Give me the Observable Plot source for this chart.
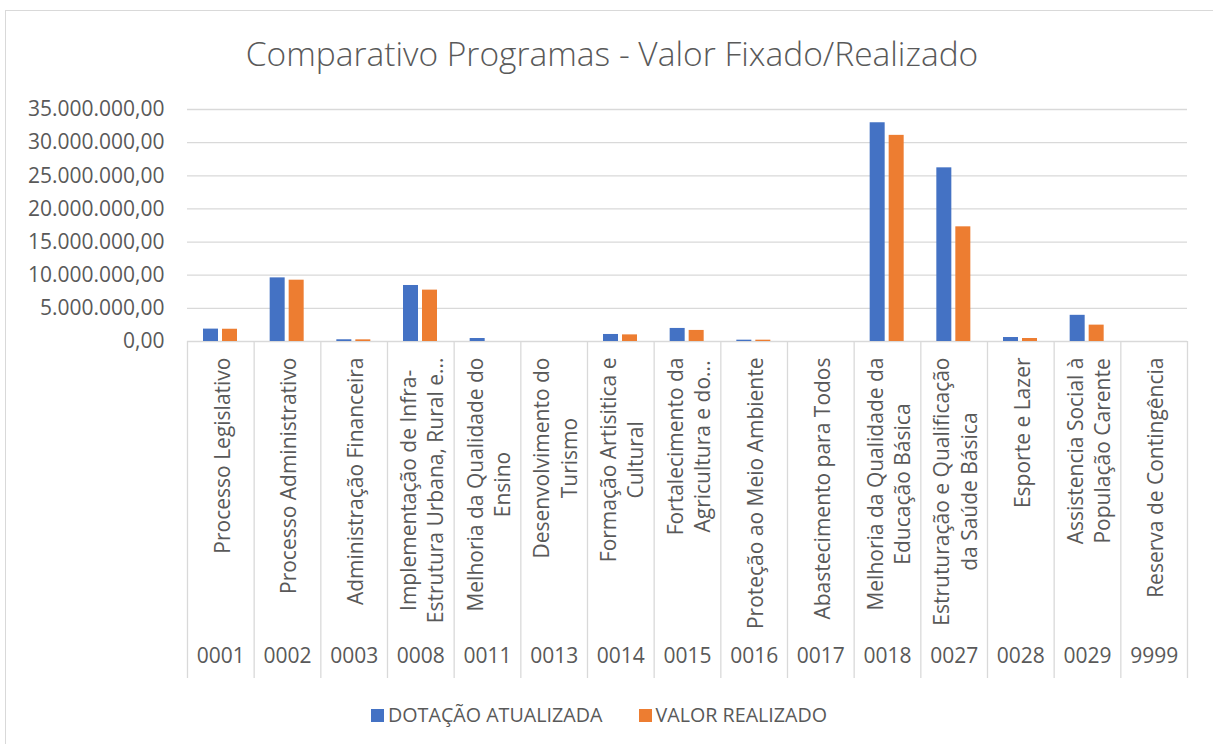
<!DOCTYPE html>
<html>
<head>
<meta charset="utf-8">
<script src="https://cdn.jsdelivr.net/npm/d3@7"></script>
<script src="https://cdn.jsdelivr.net/npm/@observablehq/plot@0.6"></script>
<style>
  html, body { margin: 0; padding: 0; background: #fff; width: 1213px; height: 744px; overflow: hidden; }
  body { position: relative; font-family: "Open Sans", sans-serif; color: #595959; }
  #frame { position: absolute; left: 5px; top: 10px; width: 1220px; height: 740px; border: 1px solid #d9d9d9; box-sizing: border-box; }
  #title { position: absolute; left: 0; width: 1224px; top: 37px; line-height: 33.5px; text-align: center; font-size: 33.5px; font-weight: 300; color: #595959; white-space: nowrap; }
  #chart { position: absolute; left: 0; top: 90px; }
  #legend { position: absolute; left: 371px; top: 700px; display: flex; align-items: center; font-size: 19.7px; line-height: 30px; color: #595959; white-space: nowrap; }
  .item { display: flex; align-items: center; }
  .sw { width: 13px; height: 13px; margin-right: 4px; }
</style>
</head>
<body>
<div id="frame"></div>
<div id="title">Comparativo Programas - Valor Fixado/Realizado</div>
<div id="chart"></div>
<div id="legend"></div>
<script>
const codes = ["0001","0002","0003","0008","0011","0013","0014","0015","0016","0017","0018","0027","0028","0029","9999"];
const names = [
  "Processo Legislativo",
  "Processo Administrativo",
  "Administração Financeira",
  "Implementação de Infra-\nEstrutura Urbana, Rural e...",
  "Melhoria da Qualidade do\nEnsino",
  "Desenvolvimento do\nTurismo",
  "Formação Artisitica e\nCultural",
  "Fortalecimento da\nAgricultura e do...",
  "Proteção ao Meio Ambiente",
  "Abastecimento para Todos",
  "Melhoria da Qualidade da\nEducação Básica",
  "Estruturação e Qualificação\nda Saúde Básica",
  "Esporte e Lazer",
  "Assistencia Social à\nPopulação Carente",
  "Reserva de Contingência"
];
const dotacao   = [1870000, 9600000, 260000, 8450000, 450000, 0, 1060000, 1970000, 200000, 0, 33000000, 26200000, 600000, 3950000, 0];
const realizado = [1850000, 9250000, 250000, 7750000, 0, 0, 1000000, 1670000, 200000, 0, 31100000, 17300000, 450000, 2470000, 0];
const seriesNames = ["DOTAÇÃO ATUALIZADA", "VALOR REALIZADO"];
const seriesColors = ["#4472C4", "#ED7D31"];
const yTicks = [0, 5000000, 10000000, 15000000, 20000000, 25000000, 30000000, 35000000];

const fmt = d3.formatLocale({decimal: ",", thousands: ".", grouping: [3], currency: ["R$", ""]}).format(",.2f");

const dataD = codes.map((c, i) => ({code: c, value: dotacao[i]}));
const dataR = codes.map((c, i) => ({code: c, value: realizado[i]}));

const W = 1213, H = 600, mL = 187, mR = 26, mT = 19, mB = 349;
const bw = (W - mL - mR) / codes.length;
const plotH = H - mT - mB;

// measure label widths for centered multi-line block placement
const ctx = document.createElement("canvas").getContext("2d");
ctx.font = "21px 'Open Sans'";
const labelMarks = names.map((n, i) => {
  const w = Math.max(...n.split("\n").map(s => ctx.measureText(s).width));
  return Plot.text([{code: codes[i], name: n}], {
    x: "code", text: "name", frameAnchor: "bottom", rotate: -90,
    textAnchor: "middle", lineAnchor: "middle", lineHeight: 1.3,
    dy: 16 + w / 2, fill: "#595959"
  });
});

const chart = Plot.plot({
  width: W, height: H,
  marginLeft: mL, marginRight: mR, marginTop: mT, marginBottom: mB,
  style: {fontFamily: "'Open Sans', sans-serif", fontSize: "21px", color: "#595959", background: "transparent"},
  x: {domain: codes, padding: 0, round: false, axis: null},
  y: {domain: [0, 35000000], ticks: yTicks, tickFormat: fmt, tickSize: 0, tickPadding: 23, label: null},
  marks: [
    Plot.ruleY(yTicks, {stroke: "#d9d9d9", strokeWidth: 1.3}),
    Plot.ruleX(codes, {x: d => d, dx: -bw / 2, insetTop: plotH, insetBottom: -337, stroke: "#d9d9d9", strokeWidth: 1.3}),
    Plot.ruleX([codes[codes.length - 1]], {x: d => d, dx: bw / 2, insetTop: plotH, insetBottom: -337, stroke: "#d9d9d9", strokeWidth: 1.3}),
    Plot.barY(dataD, {x: "code", y: "value", fill: seriesColors[0], insetLeft: 16, insetRight: bw - 31}),
    Plot.barY(dataR, {x: "code", y: "value", fill: seriesColors[1], insetLeft: 35, insetRight: bw - 50}),
    ...labelMarks,
    Plot.text(codes, {x: d => d, text: d => d, frameAnchor: "bottom", dy: 321, fill: "#595959"})
  ]
});
document.getElementById("chart").appendChild(chart);

const legend = document.getElementById("legend");
seriesNames.forEach((s, i) => {
  const it = document.createElement("div");
  it.className = "item";
  if (i > 0) it.style.marginLeft = "36px";
  const sw = document.createElement("div");
  sw.className = "sw";
  sw.style.background = seriesColors[i];
  const t = document.createElement("span");
  t.textContent = s;
  it.appendChild(sw); it.appendChild(t);
  legend.appendChild(it);
});
</script>
</body>
</html>
